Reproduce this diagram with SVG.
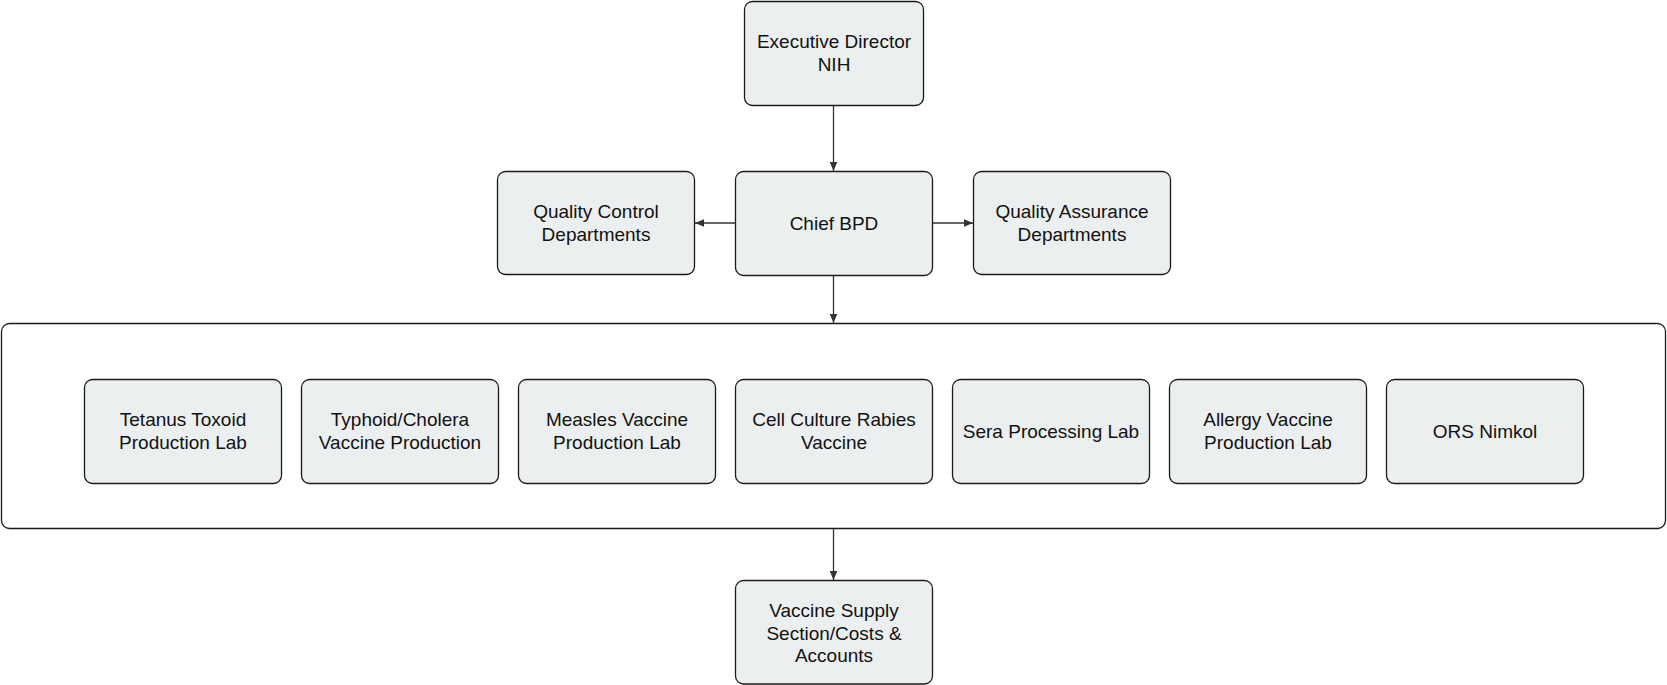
<svg xmlns="http://www.w3.org/2000/svg" width="1667" height="685" viewBox="0 0 1667 685">
<defs>
<style>
.node{fill:#ECEFF0;stroke:#1a1a1a;stroke-width:1.3}
.cont{fill:#ffffff;stroke:#1a1a1a;stroke-width:1.3}
.t{font-family:"Liberation Sans",Arial,Helvetica,sans-serif;font-size:19px;fill:#111111;text-anchor:middle}
.e{stroke:#333333;stroke-width:1.3;fill:none;marker-end:url(#ah)}
</style>
<marker id="ah" viewBox="0 0 10 10" refX="10" refY="5" markerWidth="9" markerHeight="9" markerUnits="userSpaceOnUse" orient="auto">
<path d="M0,0.8 L10,5 L0,9.2 Z" fill="#333333"/>
</marker>
</defs>
<rect width="1667" height="685" fill="#ffffff"/>
<g id="container">
<rect class="cont" x="1.5" y="323.5" width="1664" height="205" rx="8"/>
</g>
<g id="connectors">
<line class="e" x1="833.5" y1="105.5" x2="833.5" y2="171"/>
<line class="e" x1="735" y1="223" x2="695" y2="223"/>
<line class="e" x1="932" y1="223" x2="973" y2="223"/>
<line class="e" x1="833.5" y1="275.5" x2="833.5" y2="323"/>
<line class="e" x1="833.5" y1="528.5" x2="833.5" y2="580"/>
</g>
<g id="exec">
<rect class="node" x="744.5" y="1.5" width="179" height="104" rx="8"/>
<text class="t" x="834" y="48">Executive Director</text>
<text class="t" x="834" y="71">NIH</text>
</g>
<g id="qc">
<rect class="node" x="497.5" y="171.5" width="197" height="103" rx="8"/>
<text class="t" x="596" y="217.5">Quality Control</text>
<text class="t" x="596" y="240.5">Departments</text>
</g>
<g id="chief">
<rect class="node" x="735.5" y="171.5" width="197" height="104" rx="8"/>
<text class="t" x="834" y="229.5">Chief BPD</text>
</g>
<g id="qa">
<rect class="node" x="973.5" y="171.5" width="197" height="103" rx="8"/>
<text class="t" x="1072" y="217.5">Quality Assurance</text>
<text class="t" x="1072" y="240.5">Departments</text>
</g>
<g id="lab1">
<rect class="node" x="84.5" y="379.5" width="197" height="104" rx="8"/>
<text class="t" x="183" y="426">Tetanus Toxoid</text>
<text class="t" x="183" y="449">Production Lab</text>
</g>
<g id="lab2">
<rect class="node" x="301.5" y="379.5" width="197" height="104" rx="8"/>
<text class="t" x="400" y="426">Typhoid/Cholera</text>
<text class="t" x="400" y="449">Vaccine Production</text>
</g>
<g id="lab3">
<rect class="node" x="518.5" y="379.5" width="197" height="104" rx="8"/>
<text class="t" x="617" y="426">Measles Vaccine</text>
<text class="t" x="617" y="449">Production Lab</text>
</g>
<g id="lab4">
<rect class="node" x="735.5" y="379.5" width="197" height="104" rx="8"/>
<text class="t" x="834" y="426">Cell Culture Rabies</text>
<text class="t" x="834" y="449">Vaccine</text>
</g>
<g id="lab5">
<rect class="node" x="952.5" y="379.5" width="197" height="104" rx="8"/>
<text class="t" x="1051" y="437.5">Sera Processing Lab</text>
</g>
<g id="lab6">
<rect class="node" x="1169.5" y="379.5" width="197" height="104" rx="8"/>
<text class="t" x="1268" y="426">Allergy Vaccine</text>
<text class="t" x="1268" y="449">Production Lab</text>
</g>
<g id="lab7">
<rect class="node" x="1386.5" y="379.5" width="197" height="104" rx="8"/>
<text class="t" x="1485" y="437.5">ORS Nimkol</text>
</g>
<g id="supply">
<rect class="node" x="735.5" y="580.5" width="197" height="103.5" rx="8"/>
<text class="t" x="834" y="617">Vaccine Supply</text>
<text class="t" x="834" y="639.5">Section/Costs &amp;</text>
<text class="t" x="834" y="662">Accounts</text>
</g>
</svg>
